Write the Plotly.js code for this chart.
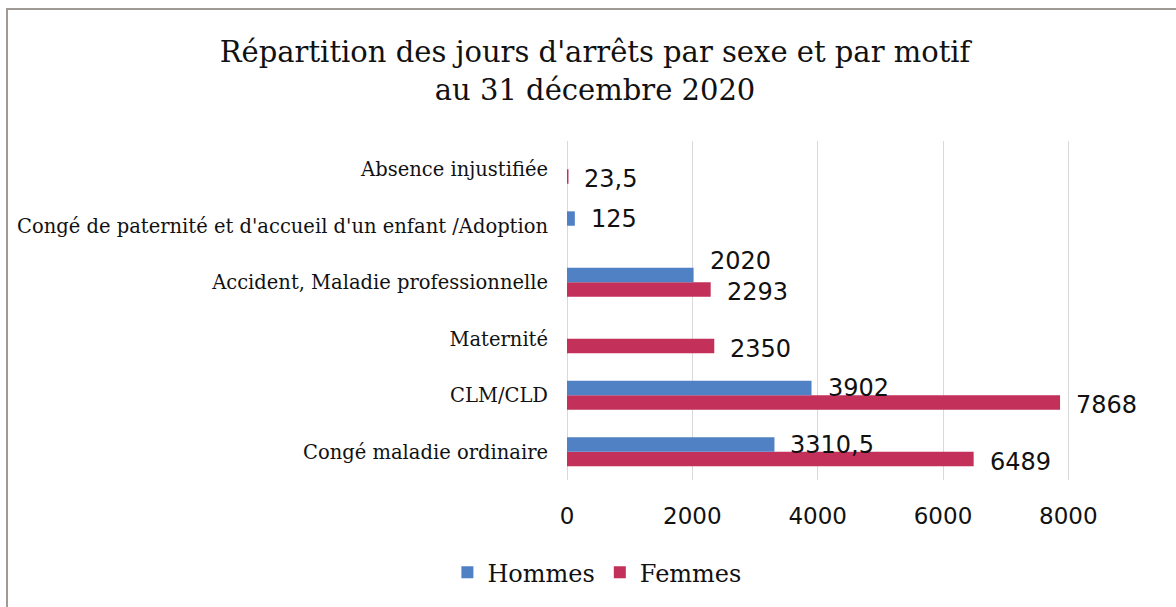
<!DOCTYPE html>
<html>
<head>
<meta charset="utf-8">
<script src="https://cdn.plot.ly/plotly-3.0.1.min.js"></script>
<style>
html,body{margin:0;padding:0;background:#fff;overflow:hidden;}
#frame{position:absolute;left:6px;top:8px;width:1300px;height:700px;border-top:2px solid #a09a95;border-left:2px solid #a09a95;pointer-events:none;z-index:5;}
#chart{position:absolute;left:0;top:0;width:1176px;height:607px;}
</style>
</head>
<body>
<div id="chart"></div>
<div id="frame"></div>
<script>
const categories = [
  "Congé maladie ordinaire",
  "CLM/CLD",
  "Maternité",
  "Accident, Maladie professionnelle",
  "Congé de paternité et d'accueil d'un enfant /Adoption",
  "Absence injustifiée"
];
const hommes = [3310.5, 3902, null, 2020, 125, null];
const femmes = [6489, 7868, 2350, 2293, null, 23.5];
const xTicks = [0, 2000, 4000, 6000, 8000];

const fmt = v => String(v).replace(".", ",");
const labelSize = 24;
const labelFont = {family: "DejaVu Sans, sans-serif", size: labelSize, color: "#111"};
const xMax = 9000, plotW = 1176 - 567 - 45;
const pxPerUnit = plotW / xMax;

const traces = [
  {
    type: "bar", orientation: "h", name: "Femmes",
    y: categories, x: femmes,
    marker: {color: "#c3305a"}, hoverinfo: "x+y"
  },
  {
    type: "bar", orientation: "h", name: "Hommes",
    y: categories, x: hommes,
    marker: {color: "#4f81c4"}, hoverinfo: "x+y"
  }
];

const annotations = [];
categories.forEach((c, i) => {
  const h = hommes[i], f = femmes[i];
  if (h !== null) {
    let ys = 7;
    const w = fmt(h).length * 0.62 * labelSize;
    if (f !== null && (f - h) * pxPerUnit < w) ys += 14;
    annotations.push({x: h, y: c, xref: "x", yref: "y", text: fmt(h), showarrow: false,
      xanchor: "left", yanchor: "middle", xshift: 14, yshift: ys, font: labelFont});
  }
  if (f !== null) {
    annotations.push({x: f, y: c, xref: "x", yref: "y", text: fmt(f), showarrow: false,
      xanchor: "left", yanchor: "middle", xshift: 14, yshift: -10, font: labelFont});
  }
});

const layout = {
  width: 1176, height: 607,
  margin: {l: 567, r: 45, t: 141, b: 125},
  paper_bgcolor: "#fff", plot_bgcolor: "#fff",
  barmode: "group", bargap: 0.49, bargroupgap: 0,
  title: {
    text: "Répartition des jours d'arrêts par sexe et par motif<br>au 31 décembre 2020",
    font: {family: "DejaVu Serif, serif", size: 29, color: "#111"},
    x: 0.506, xanchor: "center", xref: "container",
    y: 0.898, yanchor: "middle", yref: "container"
  },
  annotations: annotations,
  xaxis: {
    range: [0, xMax], tickvals: xTicks, ticktext: xTicks.map(String),
    showgrid: true, gridcolor: "#d9d9d9", gridwidth: 1,
    zeroline: true, zerolinecolor: "#d9d9d9", zerolinewidth: 1,
    showline: false, ticks: "", ticklabelstandoff: 20,
    tickfont: {family: "DejaVu Sans, sans-serif", size: 23, color: "#111"},
    fixedrange: true
  },
  yaxis: {
    type: "category", categoryorder: "array", categoryarray: categories,
    showgrid: false, showline: false, ticks: "", ticklabelstandoff: 18,
    tickfont: {family: "DejaVu Serif, serif", size: 19.5, color: "#111"},
    fixedrange: true
  },
  showlegend: true,
  legend: {
    orientation: "h", traceorder: "reversed",
    x: 0.053, xanchor: "center", y: -0.273, yanchor: "middle",
    font: {family: "DejaVu Serif, serif", size: 24, color: "#111"},
    itemwidth: 30
  }
};

Plotly.newPlot("chart", traces, layout, {displayModeBar: false, staticPlot: true});
</script>
</body>
</html>
